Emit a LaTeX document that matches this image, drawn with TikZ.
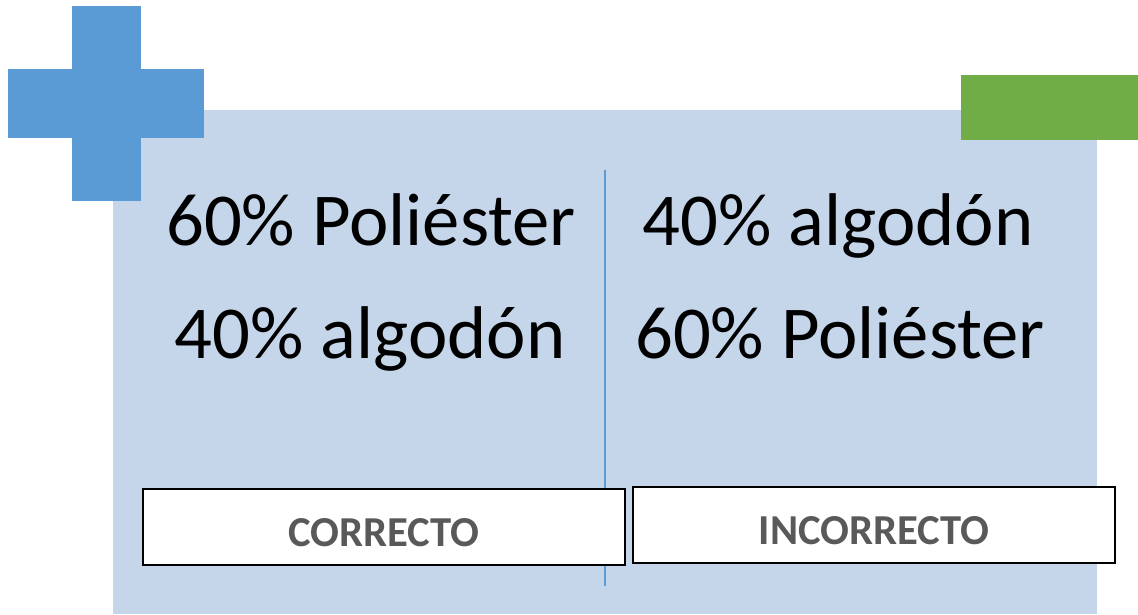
\documentclass[tikz,border=0pt]{standalone}
\usepackage{fontspec}
\setmainfont{Carlito}
\definecolor{crossblue}{HTML}{5B9BD5}
\definecolor{bgblue}{HTML}{C5D5EA}
\definecolor{leafgreen}{HTML}{70AD47}
\definecolor{labelgray}{HTML}{595959}
\newcommand{\lowlabel}[1]{\raisebox{-14.25pt}[0pt][0pt]{#1}}
\begin{document}
\begin{tikzpicture}[x=0.75pt,y=-0.75pt,
  bigtext/.style={font=\fontsize{56pt}{60pt}\selectfont, anchor=base, inner sep=0pt},
  verdict/.style={draw=black, line width=1.4pt, fill=white, minimum width=482*0.75pt, minimum height=76*0.75pt, inner sep=0pt, font=\fontsize{32pt}{34pt}\selectfont\bfseries, text=labelgray}]
\useasboundingbox (0,0) rectangle (1138,614);
\fill[bgblue] (113,110) rectangle (1097,614);
\fill[crossblue] (72,6) rectangle (141,201);
\fill[crossblue] (8,69) rectangle (204,138);
\fill[leafgreen] (961,75) rectangle (1138,140);
\coordinate (dtop) at (605,170);
\coordinate (dbot) at (605,586);
\draw[crossblue, line width=1.5pt] (dtop) -- (dbot);
\node[bigtext] (l1) at (371,245) {60\% Poliéster};
\node[bigtext] (l2) at (370,358) {40\% algodón};
\node[bigtext] (r1) at (838,245) {40\% algodón};
\node[bigtext] (r2) at (840,358) {60\% Poliéster};
\node[verdict] (ok) at (384,527) {\lowlabel{CORRECTO}};
\node[verdict] (ko) at (874,525) {\lowlabel{INCORRECTO}};
\end{tikzpicture}
\end{document}
